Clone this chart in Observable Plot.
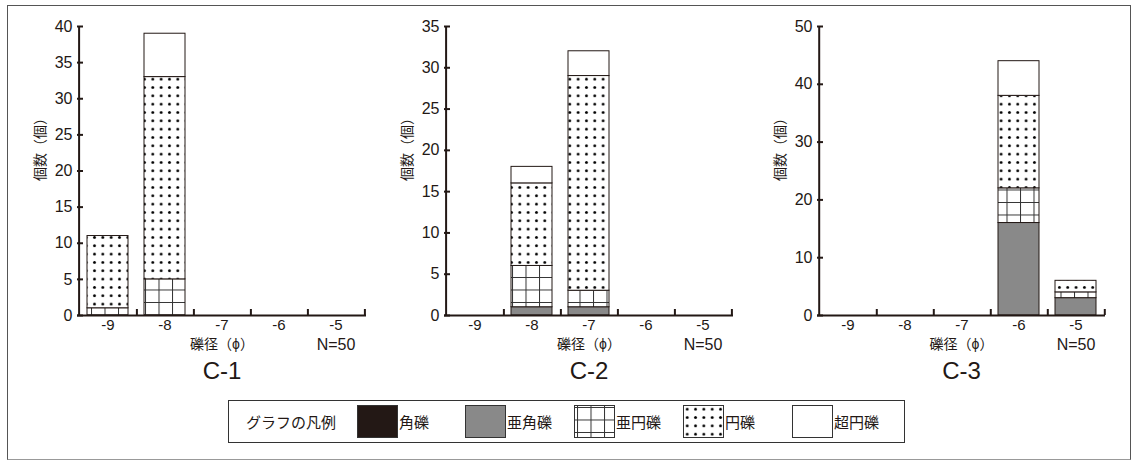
<!DOCTYPE html>
<html>
<head>
<meta charset="utf-8">
<script src="https://cdn.jsdelivr.net/npm/d3@7"></script>
<script src="https://cdn.jsdelivr.net/npm/@observablehq/plot@0.6"></script>
<style>
  html, body { margin: 0; padding: 0; background: #fff; }
  #root { position: relative; width: 1132px; height: 461px; overflow: hidden;
    font-family: "Liberation Sans", Arial, "Noto Sans CJK JP", sans-serif; color: #231815; }
  #border { position: absolute; left: 7px; top: 5px; width: 1124px; height: 455px;
    box-sizing: border-box; border: 1px solid #555; border-bottom-color: #999; }
  .panel { position: absolute; top: 0; }
  #legend { position: absolute; left: 228px; top: 400px; width: 677px; height: 43px;
    box-sizing: border-box; border: 1px solid #333;
    font-family: "Noto Sans CJK JP", sans-serif; font-size: 15px; }
  #legend .lab { position: absolute; top: 0; line-height: 41px; white-space: nowrap; }
  #legend svg { position: absolute; top: 4px; }
</style>
</head>
<body>
<div id="root">
  <div id="border"></div>
  <svg width="0" height="0" style="position:absolute">
    <defs>
      <pattern id="pat-dots" patternUnits="userSpaceOnUse" width="8.33" height="8.33">
        <rect width="8.33" height="8.33" fill="#fff"></rect>
        <circle cx="4.2" cy="4.2" r="1.45" fill="#000"></circle>
      </pattern>
      <pattern id="pat-grid" patternUnits="userSpaceOnUse" width="13.5" height="12.5" x="3" y="2">
        <rect width="13.5" height="12.5" fill="#fff"></rect>
        <path d="M0 0.5H13.5M0.5 0V12.5" stroke="#333" stroke-width="1" fill="none"></path>
      </pattern>
    </defs>
  </svg>
  <div id="legend"></div>
</div>
<script>
// ---- data ----
const sizes = [-9, -8, -7, -6, -5];
const typeNames = ["角礫", "亜角礫", "亜円礫", "円礫", "超円礫"];
const typeFills = ["#231815", "#898989", "url(#pat-grid)", "url(#pat-dots)", "#ffffff"];
const panelNames = ["C-1", "C-2", "C-3"];
const yMaxes = [40, 35, 50];
const ySteps = [5, 5, 10];
const nLabel = "N=50";
const xLabel = "礫径（ϕ）";
const yLabel = "個数（個）";
const legendTitle = "グラフの凡例";

// C-1
const c1Kakureki   = [0, 0, 0, 0, 0];
const c1Akakureki  = [0, 0, 0, 0, 0];
const c1Aenreki    = [1, 5, 0, 0, 0];
const c1Enreki     = [10, 28, 0, 0, 0];
const c1Choenreki  = [0, 6, 0, 0, 0];
// C-2
const c2Kakureki   = [0, 0, 0, 0, 0];
const c2Akakureki  = [0, 1, 1, 0, 0];
const c2Aenreki    = [0, 5, 2, 0, 0];
const c2Enreki     = [0, 10, 26, 0, 0];
const c2Choenreki  = [0, 2, 3, 0, 0];
// C-3
const c3Kakureki   = [0, 0, 0, 0, 0];
const c3Akakureki  = [0, 0, 0, 16, 3];
const c3Aenreki    = [0, 0, 0, 6, 1];
const c3Enreki     = [0, 0, 0, 16, 2];
const c3Choenreki  = [0, 0, 0, 6, 0];

const series = [
  [c1Kakureki, c1Akakureki, c1Aenreki, c1Enreki, c1Choenreki],
  [c2Kakureki, c2Akakureki, c2Aenreki, c2Enreki, c2Choenreki],
  [c3Kakureki, c3Akakureki, c3Aenreki, c3Enreki, c3Choenreki]
];

// ---- layout ----
const INK = "#231815";
const FONT = '"Liberation Sans", Arial, sans-serif';
const JFONT = '"Noto Sans CJK JP", sans-serif';
const panelLefts = [7, 374, 747];
const frameWidths = [289, 289, 288];
const mL = 70, mR = 12, mT = 26, mB = 80, H = 395;

const root = document.getElementById("root");

function drawPanel(p) {
  const counts = series[p];
  const rows = [];
  sizes.forEach((s, j) => typeNames.forEach((t, k) => {
    if (counts[k][j] > 0) rows.push({size: s, type: t, fill: typeFills[k], count: counts[k][j]});
  }));
  const fw = frameWidths[p];
  const fh = H - mT - mB;
  const bw = fw / sizes.length;
  const yTicks = d3.range(0, yMaxes[p] + 1, ySteps[p]);
  const chart = Plot.plot({
    width: mL + fw + mR, height: H,
    marginLeft: mL, marginRight: mR, marginTop: mT, marginBottom: mB,
    style: {background: "transparent", fontFamily: FONT, fontSize: "16px", color: INK, overflow: "visible"},
    x: {type: "band", domain: sizes, padding: 0, axis: null},
    y: {domain: [0, yMaxes[p]], axis: null},
    color: {type: "identity"},
    marks: [
      Plot.barY(rows, {x: "size", y: "count", fill: "fill", z: "type", stroke: INK, strokeWidth: 1, insetLeft: 8, insetRight: 8}),
      Plot.ruleY([0], {stroke: INK, strokeWidth: 2}),
      Plot.tickX([sizes[0]], {x: d => d, dx: -bw / 2, stroke: INK, strokeWidth: 2}),
      Plot.tickX(sizes, {x: d => d, dx: bw / 2, insetTop: fh - 6, stroke: INK, strokeWidth: 2}),
      Plot.tickY(yTicks, {y: d => d, insetRight: fw - 6, stroke: INK, strokeWidth: 2}),
      Plot.text(sizes, {x: d => d, text: d => String(d), frameAnchor: "bottom", lineAnchor: "middle", textAnchor: "middle", dy: 10, fontSize: 15, fill: INK}),
      Plot.text(yTicks, {y: d => d, text: d => String(d), frameAnchor: "left", lineAnchor: "middle", textAnchor: "end", dx: -5, fontSize: 16, fill: INK}),
      Plot.text([xLabel], {text: d => d, frameAnchor: "bottom", lineAnchor: "middle", textAnchor: "middle", dy: 29, fontSize: 14, fontFamily: JFONT, fill: INK}),
      Plot.text([{s: sizes[sizes.length - 1], t: nLabel}], {x: "s", text: "t", frameAnchor: "bottom", lineAnchor: "middle", textAnchor: "middle", dy: 29, fontSize: 16, fill: INK}),
      Plot.text([panelNames[p]], {text: d => d, frameAnchor: "bottom", lineAnchor: "middle", textAnchor: "middle", dy: 56, fontSize: 24, fill: INK}),
      Plot.text([yLabel], {text: d => d, frameAnchor: "left", lineAnchor: "middle", textAnchor: "middle", rotate: -90, dx: -37, dy: -25, fontSize: 14, fontFamily: JFONT, fill: INK})
    ]
  });
  chart.classList.add("panel");
  chart.style.left = panelLefts[p] + "px";
  chart.style.position = "absolute";
  chart.style.top = "0px";
  root.appendChild(chart);
}
[0, 1, 2].forEach(drawPanel);

// ---- legend ----
const legend = document.getElementById("legend");
const legendTitleLeft = 17;
const swatchLefts = [128, 236, 345, 454, 563];
const swatchW = 40, swatchH = 32;
const t = document.createElement("div");
t.className = "lab"; t.style.left = legendTitleLeft + "px"; t.textContent = legendTitle;
legend.appendChild(t);
typeNames.forEach((name, k) => {
  const ns = "http://www.w3.org/2000/svg";
  const s = document.createElementNS(ns, "svg");
  s.setAttribute("width", swatchW + 1); s.setAttribute("height", swatchH + 1);
  s.style.left = swatchLefts[k] + "px";
  const r = document.createElementNS(ns, "rect");
  r.setAttribute("x", 0.5); r.setAttribute("y", 0.5);
  r.setAttribute("width", swatchW); r.setAttribute("height", swatchH);
  r.setAttribute("fill", typeFills[k]); r.setAttribute("stroke", "#333");
  s.appendChild(r);
  legend.appendChild(s);
  const l = document.createElement("div");
  l.className = "lab"; l.style.left = (swatchLefts[k] + swatchW + 2) + "px"; l.textContent = name;
  legend.appendChild(l);
});
</script>
</body>
</html>
